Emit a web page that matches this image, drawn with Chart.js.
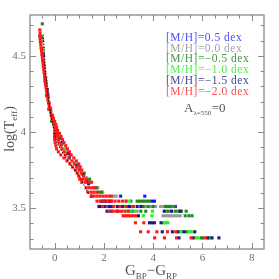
<!DOCTYPE html>
<html>
<head>
<meta charset="utf-8">
<script src="https://cdn.jsdelivr.net/npm/chart.js@4.4.1/dist/chart.umd.min.js"></script>
<style>
  html, body { margin: 0; padding: 0; background: #fff; }
</style>
</head>
<body>
<canvas id="cmd" width="279" height="279"></canvas>
<script>
// [bp_rp, log Teff] pairs, one list per metallicity
const metalLabels = ["[M/H]=0.5 dex", "[M/H]=0.0 dex", "[M/H]=\u22120.5 dex",
                     "[M/H]=\u22121.0 dex", "[M/H]=\u22121.5 dex", "[M/H]=\u22122.0 dex"];
const metalColors = ["#1414ff", "#9a9a9a", "#1f8a1f", "#22f022", "#1a1a85", "#ff1a1a"];
const keyColors = ["#4d4dff", "#a3a3a3", "#3e9a3e", "#4cf04c", "#45458f", "#ff4d4d"];

const blueP05 = [
  [-0.45, 4.45], [-0.28, 4.25], [-0.05, 4.07], [0.30, 3.93], [0.60, 3.83], [1.00, 3.76], [1.30, 3.68],
  [2.68, 3.579], [3.66, 3.579], [2.00, 3.546], [3.95, 3.546], [4.05, 3.546],
  [2.25, 3.511], [3.00, 3.511], [4.70, 3.511], [4.90, 3.511], [3.15, 3.48]
];
const grayP00 = [
  [-0.48, 4.60], [-0.36, 4.36], [-0.18, 4.16], [0.10, 3.98], [0.50, 3.87], [1.00, 3.77], [1.30, 3.70],
  [1.65, 3.634], [1.75, 3.634], [1.95, 3.605], [2.40, 3.579], [2.50, 3.579],
  [3.55, 3.511], [3.70, 3.511], [3.90, 3.511], [4.10, 3.511], [4.30, 3.511], [4.40, 3.511], [4.55, 3.511], [4.75, 3.511],
  [3.35, 3.48], [4.55, 3.48], [4.70, 3.48], [5.00, 3.48],
  [4.40, 3.45], [4.50, 3.45], [4.60, 3.45], [4.70, 3.45], [4.80, 3.45], [4.90, 3.45], [5.00, 3.45], [5.10, 3.45]
];
const greenM05 = [
  [-0.50, 4.71], [-0.52, 4.62], [-0.48, 4.52], [-0.44, 4.42], [-0.39, 4.33], [-0.33, 4.24], [-0.24, 4.15],
  [-0.12, 4.07], [0.05, 3.99], [0.30, 3.92], [0.62, 3.85], [0.95, 3.79], [1.20, 3.73], [1.42, 3.69],
  [1.70, 3.634], [1.80, 3.605], [1.90, 3.605],
  [3.10, 3.546], [3.35, 3.546], [3.45, 3.546], [3.55, 3.546], [3.65, 3.546], [3.75, 3.546], [3.85, 3.546],
  [3.60, 3.511], [3.80, 3.511], [4.00, 3.511], [4.50, 3.511], [4.60, 3.511], [4.70, 3.511], [4.85, 3.511],
  [3.50, 3.48], [3.70, 3.48], [4.60, 3.48], [4.90, 3.48], [5.05, 3.48], [5.15, 3.48], [5.34, 3.48],
  [5.30, 3.45], [5.45, 3.45], [5.58, 3.45], [5.35, 3.345], [5.95, 3.305], [6.02, 3.305]
];
const limeM10 = [
  [-0.47, 4.55], [-0.33, 4.33], [-0.15, 4.13], [0.08, 4.00], [0.42, 3.89], [0.80, 3.80],
  [2.90, 3.546], [3.05, 3.546], [2.85, 3.511], [3.15, 3.511],
  [2.95, 3.48], [3.10, 3.48], [3.25, 3.48], [3.97, 3.48], [3.60, 3.45], [3.95, 3.45],
  [4.42, 3.404], [4.50, 3.404], [4.60, 3.404],
  [5.06, 3.345], [5.14, 3.345], [5.45, 3.345], [5.55, 3.345],
  [5.72, 3.305], [5.82, 3.305], [6.28, 3.305], [6.32, 3.305]
];
const navyM15 = [
  [-0.45, 4.50], [-0.30, 4.28], [-0.10, 4.10], [0.20, 3.96], [0.55, 3.86], [0.90, 3.78], [1.15, 3.72], [1.38, 3.66],
  [1.50, 3.579], [1.90, 3.546], [2.05, 3.546], [2.20, 3.546], [2.30, 3.546],
  [1.80, 3.511], [1.90, 3.511], [2.05, 3.511], [2.20, 3.511], [2.35, 3.511], [2.55, 3.511], [2.75, 3.511], [3.05, 3.511], [3.35, 3.511], [3.50, 3.511],
  [2.13, 3.48], [2.30, 3.48], [2.55, 3.48], [4.45, 3.48], [4.75, 3.48], [5.10, 3.48], [3.40, 3.45],
  [3.85, 3.404], [3.95, 3.404], [4.05, 3.404], [4.32, 3.404],
  [4.37, 3.345], [4.78, 3.345], [5.00, 3.345], [5.25, 3.345], [5.69, 3.345],
  [5.05, 3.305], [5.62, 3.305], [6.22, 3.305], [6.39, 3.305], [6.67, 3.305]
];
const redM20 = [
  [-0.60, 4.67], [-0.59, 4.65], [-0.61, 4.63], [-0.57, 4.63], [-0.59, 4.61], [-0.58, 4.59], [-0.55, 4.59],
  [-0.56, 4.57], [-0.55, 4.55], [-0.52, 4.55], [-0.53, 4.53], [-0.52, 4.51], [-0.49, 4.51], [-0.50, 4.49],
  [-0.49, 4.47], [-0.46, 4.47], [-0.47, 4.45], [-0.46, 4.43], [-0.43, 4.43], [-0.44, 4.41], [-0.43, 4.39],
  [-0.40, 4.39], [-0.41, 4.37], [-0.40, 4.35], [-0.37, 4.35], [-0.38, 4.33], [-0.37, 4.31], [-0.34, 4.31],
  [-0.35, 4.29], [-0.33, 4.27], [-0.30, 4.27], [-0.31, 4.25], [-0.29, 4.23], [-0.26, 4.23], [-0.27, 4.21],
  [-0.25, 4.19], [-0.22, 4.19], [-0.22, 4.17], [-0.20, 4.15], [-0.16, 4.15], [-0.16, 4.13], [-0.14, 4.11],
  [-0.09, 4.11], [-0.10, 4.09], [-0.05, 4.09], [-0.07, 4.07], [0.00, 4.07], [-0.03, 4.05], [0.05, 4.05],
  [0.00, 4.03], [0.08, 4.03], [0.03, 4.01], [0.12, 4.01], [0.00, 3.99], [0.10, 3.99], [0.20, 3.99],
  [0.00, 3.97], [0.12, 3.97], [0.26, 3.97], [0.00, 3.95], [0.15, 3.95], [0.32, 3.95], [0.02, 3.93],
  [0.18, 3.93], [0.38, 3.93], [0.05, 3.91], [0.25, 3.91], [0.45, 3.91], [0.08, 3.89], [0.30, 3.89],
  [0.52, 3.89], [0.15, 3.87], [0.38, 3.87], [0.60, 3.87], [0.25, 3.85], [0.45, 3.85], [0.67, 3.85],
  [0.38, 3.83], [0.58, 3.83], [0.78, 3.83], [0.50, 3.81], [0.70, 3.81], [0.88, 3.81], [0.62, 3.79],
  [0.80, 3.79], [0.98, 3.79], [0.72, 3.77], [0.88, 3.77], [1.04, 3.77], [0.85, 3.75], [1.00, 3.75],
  [1.10, 3.75], [0.92, 3.73], [1.08, 3.73], [0.98, 3.71], [1.18, 3.71], [1.02, 3.69], [1.15, 3.69],
  [1.28, 3.69], [1.10, 3.67], [1.25, 3.67], [1.40, 3.67], [1.50, 3.67],
  [1.28, 3.634], [1.40, 3.634], [1.52, 3.634], [1.62, 3.634],
  [1.35, 3.605], [1.48, 3.605], [1.60, 3.605], [1.72, 3.605],
  [1.48, 3.579], [1.60, 3.579], [1.72, 3.579], [1.84, 3.579], [1.96, 3.579], [2.08, 3.579], [2.20, 3.579], [2.30, 3.579],
  [1.72, 3.546], [1.85, 3.546], [2.00, 3.546], [2.15, 3.546], [2.30, 3.546], [2.45, 3.546], [2.60, 3.546], [2.75, 3.546], [2.90, 3.546],
  [1.95, 3.511], [2.40, 3.511], [2.65, 3.511], [2.90, 3.511], [3.20, 3.511],
  [2.20, 3.48], [2.35, 3.48], [2.48, 3.48], [2.60, 3.48], [2.72, 3.48], [2.85, 3.48], [3.00, 3.48],
  [2.78, 3.45], [2.88, 3.45], [2.98, 3.45], [3.08, 3.45], [3.18, 3.45], [3.28, 3.45],
  [3.28, 3.404], [3.62, 3.404],
  [3.49, 3.345], [3.80, 3.345], [4.15, 3.345], [4.58, 3.345], [4.92, 3.345],
  [4.06, 3.305], [4.46, 3.305], [4.95, 3.305], [5.54, 3.305], [6.12, 3.305]
];
// thin black locus through the sequence
const blackLocus = [
  [-0.47, 4.64], [-0.43, 4.55], [-0.37, 4.40], [-0.31, 4.30], [-0.22, 4.18], [-0.12, 4.08], [-0.02, 4.00],
  [0.10, 3.93], [0.30, 3.87], [0.55, 3.81], [0.78, 3.755], [1.05, 3.70], [1.20, 3.65], [1.39, 3.59]
];

const xTickLabels = [0, 2, 4, 6, 8];
const yTickLabels = [3.5, 4, 4.5];

const toXY = arr => arr.map(p => ({ x: p[0], y: p[1] }));
const seriesData = [blueP05, grayP00, greenM05, limeM10, navyM15, redM20];

const datasets = [{
  label: "locus",
  type: "line",
  data: toXY(blackLocus),
  borderColor: "#000",
  borderWidth: 1,
  borderDash: [1.5, 1.5],
  pointRadius: 0,
  fill: false
}];
// red drawn on top, blue at the bottom
for (let i = seriesData.length - 1; i >= 0; i--) {
  datasets.push({
    label: metalLabels[i],
    data: toXY(seriesData[i]),
    backgroundColor: metalColors[i],
    borderWidth: 0,
    pointStyle: "rect",
    pointRadius: 2.2
  });
}

const serif = '"Liberation Serif", "DejaVu Serif", serif';

// frame, inward ticks, labels and annotation text
const decor = {
  id: "decor",
  afterDatasetsDraw(chart) {
    const ctx = chart.ctx;
    const a = chart.chartArea;
    const xs = chart.scales.x, ys = chart.scales.y;
    ctx.save();
    ctx.strokeStyle = "#8a8a8a";
    ctx.lineWidth = 1.3;
    ctx.strokeRect(a.left, a.top, a.right - a.left, a.bottom - a.top);

    ctx.lineWidth = 1;
    for (let v = -0.5; v <= 8.01; v += 0.5) {
      const px = Math.round(xs.getPixelForValue(v)) + 0.5;
      const len = xTickLabels.includes(v) ? 6 : 3.5;
      ctx.beginPath();
      ctx.moveTo(px, a.bottom); ctx.lineTo(px, a.bottom - len);
      ctx.moveTo(px, a.top); ctx.lineTo(px, a.top + len);
      ctx.stroke();
    }
    for (let k = 33; k <= 47; k++) {
      const v = k / 10;
      const py = Math.round(ys.getPixelForValue(v)) + 0.5;
      const len = yTickLabels.some(t => Math.abs(t - v) < 1e-6) ? 6 : 3.5;
      ctx.beginPath();
      ctx.moveTo(a.left, py); ctx.lineTo(a.left + len, py);
      ctx.moveTo(a.right, py); ctx.lineTo(a.right - len, py);
      ctx.stroke();
    }

    ctx.fillStyle = "#707070";
    ctx.font = "11px " + serif;
    ctx.textAlign = "center";
    ctx.textBaseline = "middle";
    xTickLabels.forEach(v => ctx.fillText(String(v), xs.getPixelForValue(v), a.bottom + 9));
    ctx.textAlign = "right";
    yTickLabels.forEach(v => ctx.fillText(String(v), a.left - 4, ys.getPixelForValue(v)));

    // x title: G_BP - G_RP
    ctx.fillStyle = "#555";
    ctx.textAlign = "left";
    ctx.textBaseline = "alphabetic";
    const parts = [["G", 15, 0], ["BP", 9, 4], ["\u2212", 15, 0], ["G", 15, 0], ["RP", 9, 4]];
    let w = 0;
    parts.forEach(p => { ctx.font = p[1] + "px " + serif; w += ctx.measureText(p[0]).width; });
    let x0 = (a.left + a.right) / 2 + 4 - w / 2;
    parts.forEach(p => {
      ctx.font = p[1] + "px " + serif;
      ctx.fillText(p[0], x0, 275 + p[2]);
      x0 += ctx.measureText(p[0]).width;
    });

    // y title: log(T_eff)
    ctx.save();
    ctx.translate(14, 129);
    ctx.rotate(-Math.PI / 2);
    const yp = [["log(T", 14, 0], ["eff", 9, 3], [")", 14, 0]];
    w = 0;
    yp.forEach(p => { ctx.font = p[1] + "px " + serif; w += ctx.measureText(p[0]).width; });
    x0 = -w / 2;
    yp.forEach(p => {
      ctx.font = p[1] + "px " + serif;
      ctx.fillText(p[0], x0, p[2]);
      x0 += ctx.measureText(p[0]).width;
    });
    ctx.restore();

    // metallicity key
    ctx.font = "11.5px " + serif;
    ctx.letterSpacing = "0.5px";
    ctx.textBaseline = "middle";
    metalLabels.forEach((t, i) => {
      ctx.fillStyle = keyColors[i];
      ctx.fillText(t, 166, 38 + i * 10.7);
    });
    ctx.letterSpacing = "0px";

    // extinction note
    ctx.fillStyle = "#505050";
    ctx.textBaseline = "alphabetic";
    ctx.font = "13px " + serif;
    ctx.fillText("A", 184, 112);
    let ax = 184 + ctx.measureText("A").width;
    ctx.font = "7px " + serif;
    ctx.fillText("\u03bb=550", ax, 115);
    ax += ctx.measureText("\u03bb=550").width + 0.5;
    ctx.font = "13px " + serif;
    ctx.fillText("=0", ax, 112);
    ctx.restore();
  }
};

new Chart(document.getElementById("cmd").getContext("2d"), {
  type: "scatter",
  data: { datasets: datasets },
  options: {
    responsive: false,
    animation: false,
    layout: { padding: { left: 30, right: 15, top: 15, bottom: 30 } },
    plugins: { legend: { display: false }, tooltip: { enabled: false } },
    scales: {
      x: { type: "linear", min: -1, max: 8.5, display: false },
      y: { type: "linear", min: 3.232, max: 4.768, display: false }
    }
  },
  plugins: [decor]
});
</script>
</body>
</html>
